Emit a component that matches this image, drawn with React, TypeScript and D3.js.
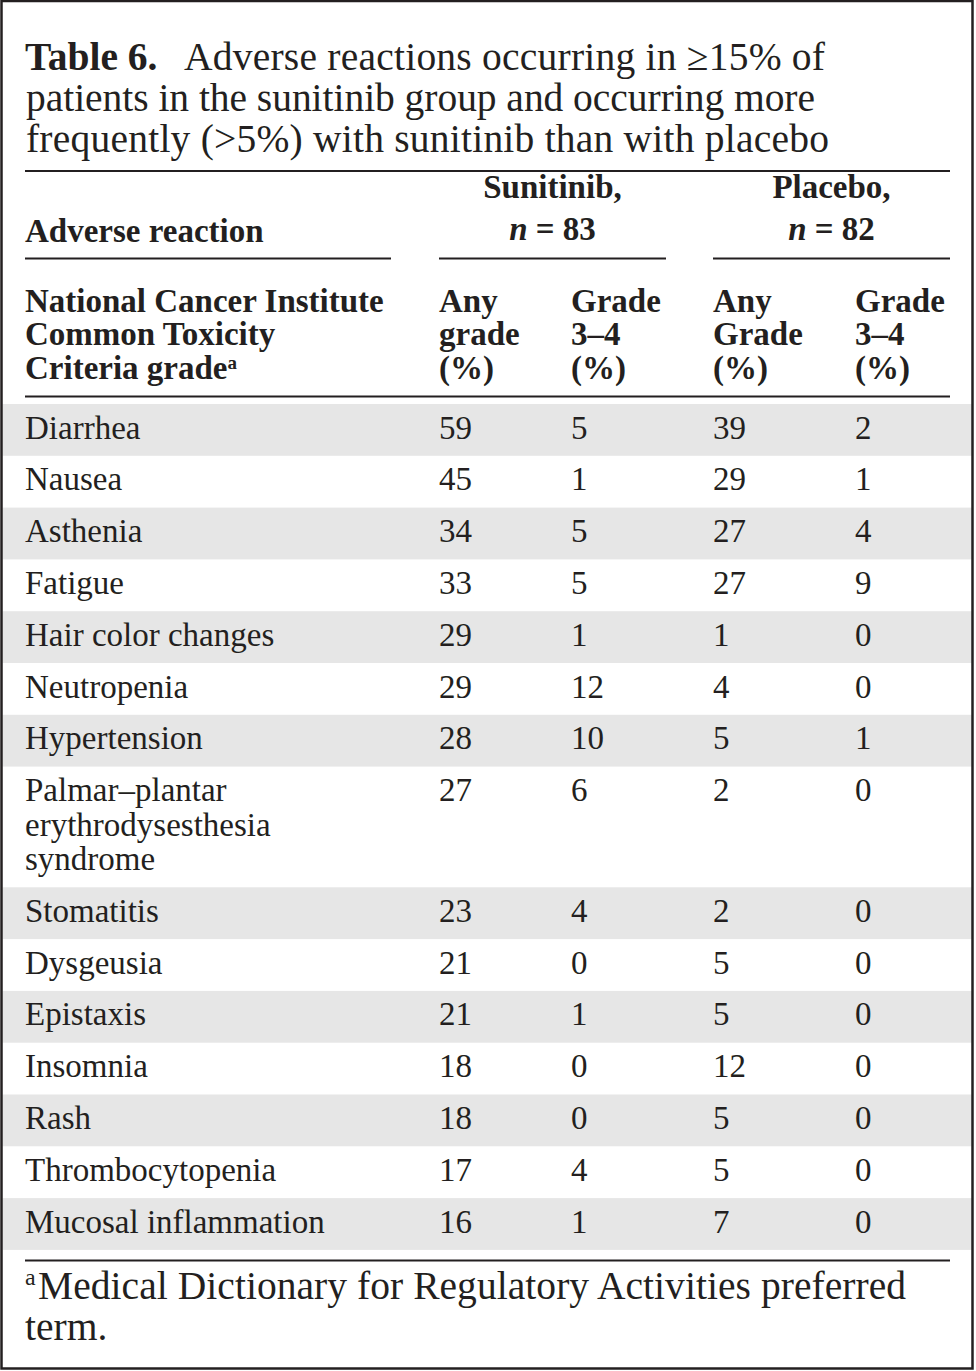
import React, { useEffect } from 'react';
import * as d3 from 'd3';

// ---- data ----
const titleBold = 'Table 6.';
const titleLines = [
  'Adverse reactions occurring in ≥15% of',
  'patients in the sunitinib group and occurring more',
  'frequently (>5%) with sunitinib than with placebo',
];
const groupNames = ['Sunitinib,', 'Placebo,'];
const groupN = ['83', '82'];
const stubHeader = ['National Cancer Institute', 'Common Toxicity', 'Criteria grade'];
const colHeaders = [
  ['Any', 'grade', '(%)'],
  ['Grade', '3–4', '(%)'],
  ['Any', 'Grade', '(%)'],
  ['Grade', '3–4', '(%)'],
];
const reactions = [
  'Diarrhea',
  'Nausea',
  'Asthenia',
  'Fatigue',
  'Hair color changes',
  'Neutropenia',
  'Hypertension',
  'Palmar–plantar\nerythrodysesthesia\nsyndrome',
  'Stomatitis',
  'Dysgeusia',
  'Epistaxis',
  'Insomnia',
  'Rash',
  'Thrombocytopenia',
  'Mucosal inflammation',
];
const sunAny = [59, 45, 34, 33, 29, 29, 28, 27, 23, 21, 21, 18, 18, 17, 16];
const sunG34 = [5, 1, 5, 5, 1, 12, 10, 6, 4, 0, 1, 0, 0, 4, 1];
const plaAny = [39, 29, 27, 27, 1, 4, 5, 2, 2, 5, 5, 12, 5, 5, 7];
const plaG34 = [2, 1, 4, 9, 0, 0, 1, 0, 0, 0, 0, 0, 0, 0, 0];
const footnote = ['Medical Dictionary for Regulatory Activities preferred', 'term.'];

// ---- layout ----
const W = 976;
const H = 1371;
const INK = '#231f20';
const STRIPE = '#e6e6e6';
const FONT = '"Liberation Serif", "Times New Roman", serif';
const L = 25;
const R = 950;
const colX = [439, 571, 713, 855];
const bodyTop = 404;
const rowH = 51.8;
const lineH = 34.45;

export default function App() {
  useEffect(() => {
    document.body.style.margin = '0';
  }, []);

  const lines = reactions.map((r) => r.split('\n'));
  const heights = lines.map((ls) => rowH + (ls.length - 1) * lineH);
  const cum = Array.from(d3.cumsum(heights));
  const tops = cum.map((c, i) => bodyTop + c - heights[i]);
  const bodyBottom = bodyTop + (cum[cum.length - 1] || 0);
  const values = [sunAny, sunG34, plaAny, plaG34];

  const titleY = d3.scaleLinear().domain([0, 1]).range([70, 111]);
  const hdrY = d3.scaleLinear().domain([0, 1]).range([311.7, 345.1]);
  const groupCenters = [(439 + 666) / 2, (713 + 950) / 2];
  const segs: [number, number][] = [
    [L, 391],
    [439, 666],
    [713, R],
  ];
  const titleLens = [641, 789, 803];

  return (
    <svg
      width={W}
      height={H}
      viewBox={`0 0 ${W} ${H}`}
      style={{ position: 'absolute', left: 0, top: 0, display: 'block', background: '#fff' }}
      fontFamily={FONT}
      fill={INK}
    >
      <rect x={0} y={0} width={W} height={H} fill="#fff" />

      {/* stripes */}
      {tops.map((t, i) =>
        i % 2 === 0 ? (
          <rect key={'s' + i} x={2.5} y={t} width={970} height={heights[i]} fill={STRIPE} />
        ) : null
      )}

      {/* title */}
      <text x={L} y={titleY(0)} fontSize={39.5} fontWeight="bold">
        {titleBold}
      </text>
      <text x={184} y={titleY(0)} fontSize={39.5} textLength={titleLens[0]} lengthAdjust="spacing">
        {titleLines[0]}
      </text>
      {titleLines.slice(1).map((t, i) => (
        <text
          key={'t' + i}
          x={L + 1}
          y={titleY(i + 1)}
          fontSize={39.5}
          textLength={titleLens[i + 1]}
          lengthAdjust="spacing"
        >
          {t}
        </text>
      ))}

      {/* top rule */}
      <line x1={L} x2={R} y1={171} y2={171} stroke={INK} strokeWidth={2} />

      {/* group headers */}
      <text x={L} y={241.7} fontSize={33} fontWeight="bold">
        Adverse reaction
      </text>
      {groupNames.map((g, i) => (
        <g key={'g' + i}>
          <text x={groupCenters[i]} y={198} fontSize={33} fontWeight="bold" textAnchor="middle">
            {g}
          </text>
          <text x={groupCenters[i]} y={240} fontSize={33} fontWeight="bold" textAnchor="middle">
            <tspan fontStyle="italic">n</tspan>
            <tspan>{' = ' + groupN[i]}</tspan>
          </text>
        </g>
      ))}
      {segs.map(([a, b], i) => (
        <line key={'sg' + i} x1={a} x2={b} y1={258.5} y2={258.5} stroke={INK} strokeWidth={1.8} />
      ))}

      {/* column headers */}
      {stubHeader.map((s, i) => (
        <text key={'sh' + i} x={L} y={hdrY(i)} fontSize={33} fontWeight="bold">
          {s}
          {i === stubHeader.length - 1 ? (
            <tspan fontSize={19} dy={-10}>
              a
            </tspan>
          ) : null}
        </text>
      ))}
      {colHeaders.map((ch, c) =>
        ch.map((s, i) => (
          <text key={'ch' + c + '-' + i} x={colX[c]} y={hdrY(i)} fontSize={33} fontWeight="bold">
            {s}
          </text>
        ))
      )}
      <line x1={L} x2={R} y1={396.5} y2={396.5} stroke={INK} strokeWidth={2} />

      {/* body */}
      {lines.map((ls, i) => (
        <g key={'r' + i}>
          {ls.map((s, j) => (
            <text key={j} x={L} y={tops[i] + 34.5 + j * lineH} fontSize={33}>
              {s}
            </text>
          ))}
          {values.map((v, c) => (
            <text key={'v' + c} x={colX[c]} y={tops[i] + 34.5} fontSize={33}>
              {v[i]}
            </text>
          ))}
        </g>
      ))}

      {/* bottom rule */}
      <line x1={L} x2={R} y1={bodyBottom + 10.7} y2={bodyBottom + 10.7} stroke={INK} strokeWidth={2} />

      {/* footnote */}
      <text x={L} y={1285} fontSize={24}>
        a
      </text>
      <text x={38} y={1299} fontSize={39.5} textLength={868} lengthAdjust="spacing">
        {footnote[0]}
      </text>
      <text x={L} y={1340} fontSize={39.5}>
        {footnote[1]}
      </text>

      {/* frame */}
      <rect x={1.5} y={1} width={971} height={1367.5} fill="none" stroke={INK} strokeWidth={2.5} />
    </svg>
  );
}
